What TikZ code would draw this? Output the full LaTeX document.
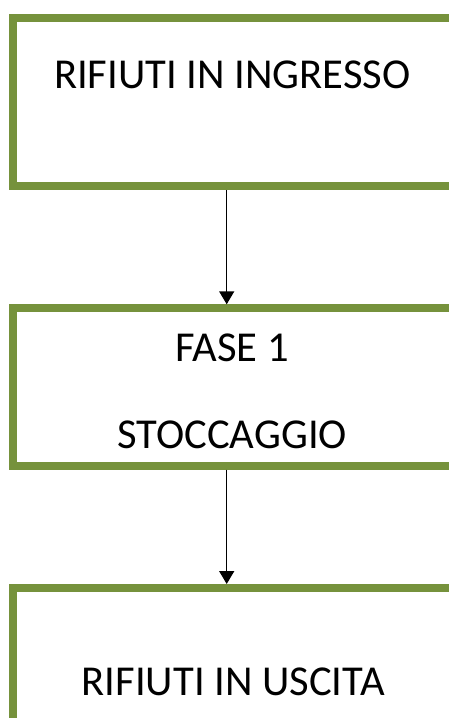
\documentclass[tikz,border=0pt]{standalone}
\usepackage{fontspec}
\setmainfont{Carlito}
\usetikzlibrary{arrows.meta}
\definecolor{olivebox}{RGB}{118,146,60}
\tikzset{
  greenbox/.style={draw=olivebox, line width=8pt, rectangle, inner sep=0pt, fill=none},
  label/.style={font=\fontsize{42.6}{50}\selectfont, text=black, anchor=base, inner sep=0pt},
  flow/.style={draw=black, line width=1.5pt, -{Triangle[length=13pt,width=15pt]}}
}
\begin{document}
\begin{tikzpicture}[x=1pt,y=1pt]
  \useasboundingbox (0,0) rectangle (449,-718);
  \clip (0,0) rectangle (449,-718);
  \node[greenbox, minimum width=447pt, minimum height=168.5pt] (box1) at (236.5,-101.75) {};
  \node[greenbox, minimum width=447pt, minimum height=157.2pt] (box2) at (236.5,-386.9) {};
  \node[greenbox, minimum width=447pt, minimum height=170pt] (box3) at (236.5,-673) {};
  \node[label] (t1) at (232.3,-88.3) {RIFIUTI IN INGRESSO};
  \node[label] (t2) at (232,-361.7) {FASE 1};
  \node[label] (t3) at (232.2,-448.3) {STOCCAGGIO};
  \node[label] (t4) at (233.3,-695) {RIFIUTI IN USCITA};
  \coordinate (ax) at (226.7,0);
  \draw[flow] (box1.south -| ax) -- (box2.north -| ax);
  \draw[flow] (box2.south -| ax) -- (box3.north -| ax);
\end{tikzpicture}
\end{document}
